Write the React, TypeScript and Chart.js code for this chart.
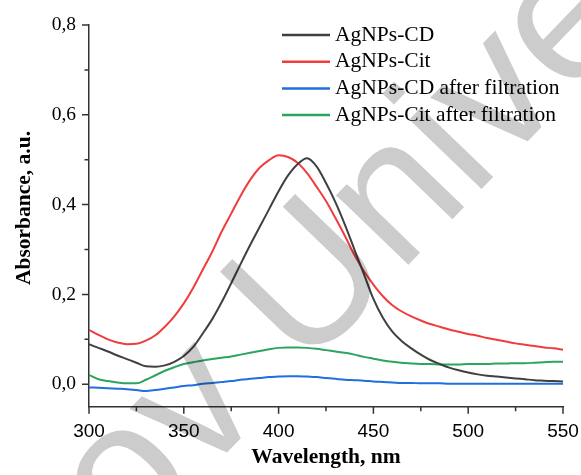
import React, { useEffect, useRef } from "react";
import { Chart, registerables } from "chart.js";

Chart.register(...registerables);

const WAVELENGTHS = [
  300, 305, 310, 315, 320, 325, 330, 335, 340, 345, 350, 355, 360, 365, 370, 375, 380, 385, 390, 395,
  400, 405, 410, 415, 420, 425, 430, 435, 440, 445, 450, 455, 460, 465, 470, 475, 480, 485, 490, 495,
  500, 505, 510, 515, 520, 525, 530, 535, 540, 545, 550,
];

const AGNPS_CD = [
  0.089, 0.081, 0.073, 0.064, 0.056, 0.048, 0.04, 0.039, 0.042, 0.05, 0.063, 0.083, 0.113, 0.145, 0.183,
  0.225, 0.268, 0.31, 0.35, 0.39, 0.43, 0.465, 0.49, 0.503, 0.485, 0.448, 0.405, 0.355, 0.3, 0.245,
  0.19, 0.148, 0.117, 0.096, 0.08, 0.066, 0.054, 0.045, 0.037, 0.031, 0.026, 0.022, 0.019, 0.017, 0.015,
  0.013, 0.011, 0.009, 0.008, 0.007, 0.006,
];

const AGNPS_CIT = [
  0.121, 0.11, 0.1, 0.093, 0.089, 0.09, 0.097, 0.109, 0.128, 0.151, 0.18, 0.215, 0.255, 0.295, 0.34,
  0.38, 0.42, 0.455, 0.482, 0.499, 0.51, 0.506, 0.493, 0.47, 0.44, 0.408, 0.37, 0.33, 0.288, 0.252, 0.222,
  0.196, 0.176, 0.162, 0.151, 0.142, 0.134, 0.128, 0.122, 0.117, 0.112, 0.108, 0.103, 0.099, 0.095,
  0.091, 0.088, 0.085, 0.082, 0.08, 0.077,
];

const AGNPS_CD_FILTERED = [
  -0.007, -0.008, -0.009, -0.01, -0.011, -0.013, -0.015, -0.013, -0.01, -0.007, -0.004, -0.002, 0.001,
  0.003, 0.005, 0.007, 0.01, 0.012, 0.014, 0.016, 0.017, 0.018, 0.018, 0.017, 0.016, 0.014, 0.012, 0.01,
  0.009, 0.008, 0.006, 0.005, 0.004, 0.003, 0.003, 0.002, 0.002, 0.002, 0.001, 0.001, 0.001, 0.001,
  0.001, 0.001, 0.001, 0.001, 0.001, 0.001, 0.001, 0.001, 0.001,
];

const AGNPS_CIT_FILTERED = [
  0.021, 0.011, 0.007, 0.004, 0.002, 0.002, 0.01, 0.02, 0.03, 0.038, 0.045, 0.049, 0.053, 0.056, 0.059,
  0.062, 0.066, 0.07, 0.074, 0.078, 0.081, 0.082, 0.082, 0.081, 0.079, 0.076, 0.073, 0.07, 0.066, 0.061,
  0.057, 0.053, 0.05, 0.048, 0.046, 0.045, 0.045, 0.044, 0.044, 0.044, 0.045, 0.045, 0.045, 0.046,
  0.046, 0.047, 0.047, 0.048, 0.049, 0.05, 0.05,
];

const SERIES_LABELS = [
  "AgNPs-CD",
  "AgNPs-Cit",
  "AgNPs-CD after filtration",
  "AgNPs-Cit after filtration",
];
const SERIES_COLORS = ["#404040", "#f03c3c", "#1f6fdc", "#2ba55e"];
const SERIES_VALUES = [AGNPS_CD, AGNPS_CIT, AGNPS_CD_FILTERED, AGNPS_CIT_FILTERED];

const X_MAJOR = [300, 350, 400, 450, 500, 550];
const X_MINOR = [325, 375, 425, 475, 525];
const Y_MAJOR = [0, 0.2, 0.4, 0.6, 0.8];
const Y_MINOR = [0.1, 0.3, 0.5, 0.7];

const X_TITLE = "Wavelength, nm";
const Y_TITLE = "Absorbance, a.u.";
const WATERMARK_BEFORE = "ov ";
const WATERMARK_AFTER = "University";

const SERIF = '"Liberation Serif", "Times New Roman", serif';
const SANS = '"Liberation Sans", Arial, sans-serif';
const AXIS_COLOR = "#333333";

const decorPlugin = {
  id: "decor",
  afterDraw(chart: any) {
    const ctx = chart.ctx as CanvasRenderingContext2D;
    const xs = chart.scales.x;
    const ys = chart.scales.y;
    const area = chart.chartArea;

    // tick marks
    ctx.save();
    ctx.strokeStyle = AXIS_COLOR;
    ctx.lineWidth = 1.5;
    ctx.beginPath();
    X_MAJOR.forEach((v) => {
      const px = xs.getPixelForValue(v);
      ctx.moveTo(px, area.bottom);
      ctx.lineTo(px, area.bottom + 7);
    });
    X_MINOR.forEach((v) => {
      const px = xs.getPixelForValue(v);
      ctx.moveTo(px, area.bottom);
      ctx.lineTo(px, area.bottom + 4.5);
    });
    Y_MAJOR.forEach((v) => {
      const py = ys.getPixelForValue(v);
      ctx.moveTo(area.left, py);
      ctx.lineTo(area.left - 7, py);
    });
    Y_MINOR.forEach((v) => {
      const py = ys.getPixelForValue(v);
      ctx.moveTo(area.left, py);
      ctx.lineTo(area.left - 4.5, py);
    });
    ctx.stroke();
    ctx.restore();

    // axis titles
    ctx.save();
    ctx.fillStyle = "#000";
    ctx.font = `bold 21.5px ${SERIF}`;
    ctx.textAlign = "center";
    ctx.textBaseline = "alphabetic";
    ctx.fillText(X_TITLE, (area.left + area.right) / 2, 462.7);
    ctx.translate(30, 208);
    ctx.rotate(-Math.PI / 2);
    ctx.fillText(Y_TITLE, 0, 0);
    ctx.restore();

    // legend
    ctx.save();
    ctx.font = `21.5px ${SERIF}`;
    ctx.textAlign = "left";
    ctx.textBaseline = "alphabetic";
    SERIES_LABELS.forEach((label, i) => {
      const ly = 35 + i * 26.7;
      ctx.strokeStyle = SERIES_COLORS[i];
      ctx.lineWidth = 2.5;
      ctx.beginPath();
      ctx.moveTo(282, ly);
      ctx.lineTo(330, ly);
      ctx.stroke();
      ctx.fillStyle = "#000";
      ctx.fillText(label, 335, ly + 5.7);
    });
    ctx.restore();

    // watermark
    ctx.save();
    ctx.globalCompositeOperation = "multiply";
    ctx.fillStyle = "#cccccc";
    ctx.font = `190px ${SANS}`;
    ctx.translate(304, 373);
    ctx.rotate((-46 * Math.PI) / 180);
    ctx.textBaseline = "alphabetic";
    ctx.textAlign = "left";
    ctx.fillText(WATERMARK_AFTER, 0, 0);
    ctx.textAlign = "right";
    ctx.fillText(WATERMARK_BEFORE, 0, 0);
    ctx.restore();
  },
};

export default function App() {
  const ref = useRef<HTMLCanvasElement | null>(null);

  useEffect(() => {
    if (!ref.current) return;
    const chart = new Chart(ref.current, {
      type: "line",
      data: {
        datasets: SERIES_VALUES.map((vals, i) => ({
          label: SERIES_LABELS[i],
          data: WAVELENGTHS.map((w, j) => ({ x: w, y: vals[j] })),
          borderColor: SERIES_COLORS[i],
          backgroundColor: SERIES_COLORS[i],
          borderWidth: 2,
          pointRadius: 0,
          cubicInterpolationMode: "monotone" as const,
          fill: false,
        })),
      },
      options: {
        responsive: false,
        animation: false,
        devicePixelRatio: 1,
        layout: { padding: { top: 25, right: 18, left: 0, bottom: 0 } },
        plugins: { legend: { display: false }, tooltip: { enabled: false } },
        scales: {
          x: {
            type: "linear",
            min: 300,
            max: 550,
            afterBuildTicks: (s: any) => {
              s.ticks = X_MAJOR.map((v) => ({ value: v }));
            },
            afterFit: (s: any) => {
              s.height = 475 - 406.7;
              s.paddingLeft = 0;
              s.paddingRight = 0;
            },
            ticks: {
              font: { family: SANS, size: 19 },
              color: "#000",
              padding: 14,
              maxRotation: 0,
              autoSkip: false,
              callback: (v: any) => String(v),
            },
            grid: { display: false, drawTicks: false },
            border: { display: true, color: AXIS_COLOR, width: 1.5 },
          },
          y: {
            type: "linear",
            min: -0.05,
            max: 0.8,
            afterBuildTicks: (s: any) => {
              s.ticks = Y_MAJOR.map((v) => ({ value: v }));
            },
            afterFit: (s: any) => {
              s.width = 89;
              s.paddingTop = 0;
              s.paddingBottom = 0;
            },
            ticks: {
              font: { family: SERIF, size: 19.5 },
              color: "#000",
              padding: 13,
              autoSkip: false,
              callback: (v: any) => Number(v).toFixed(1).replace(".", ","),
            },
            grid: { display: false, drawTicks: false },
            border: { display: true, color: AXIS_COLOR, width: 1.5 },
          },
        },
      },
      plugins: [decorPlugin],
    });
    return () => chart.destroy();
  }, []);

  return (
    <div style={{ position: "absolute", left: 0, top: 0, width: 581, height: 475, background: "#fff" }}>
      <canvas ref={ref} width={581} height={475} />
    </div>
  );
}
